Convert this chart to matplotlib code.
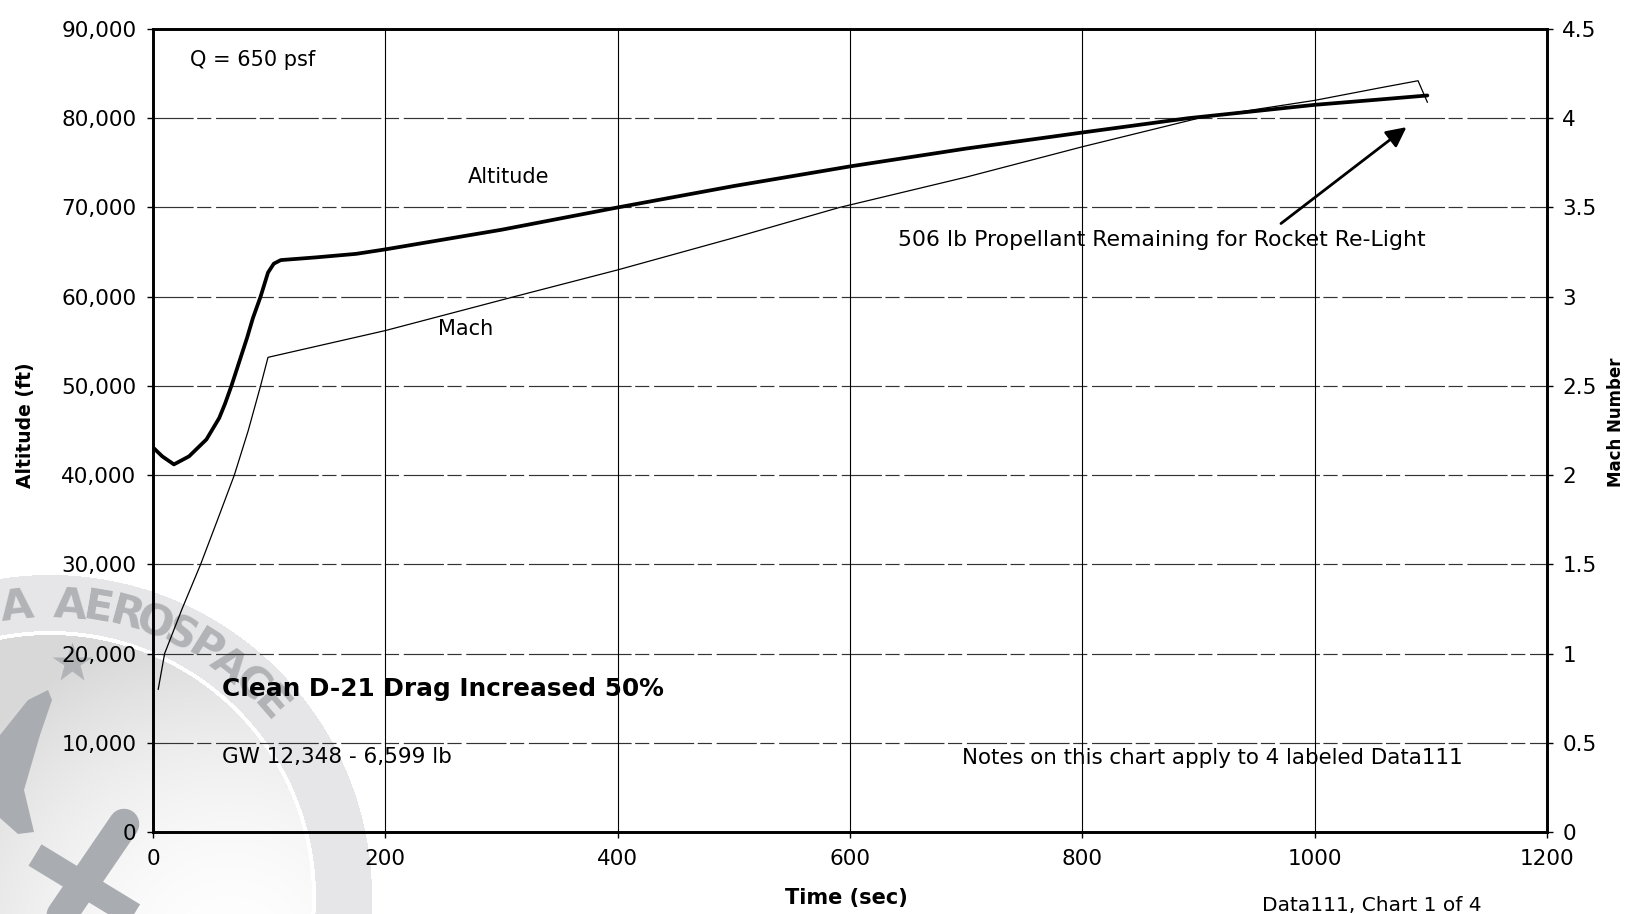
import numpy as np
import matplotlib
matplotlib.use("Agg")
import matplotlib.pyplot as plt
from matplotlib.patches import Polygon

# ---------------- data ----------------
time_alt = [0, 8, 18, 31, 46, 57, 62, 67.5, 74, 81, 86, 92.6, 99, 104, 110, 140, 175, 200,
            300, 400, 500, 600, 700, 800, 891, 1000, 1056, 1097]
altitude = [43100, 42100, 41200, 42100, 44000, 46400, 48000, 50000, 52600, 55400, 57600,
            60000, 62700, 63700, 64100, 64400, 64800, 65300, 67500, 70000, 72400, 74600,
            76600, 78400, 80000, 81500, 82100, 82550]

time_mach = [4.5, 10, 25, 41, 55, 70, 82, 92.6, 99, 200, 311, 400, 500, 591,
             700, 800, 900, 1000, 1056, 1089, 1097]
mach = [0.80, 1.0, 1.25, 1.5, 1.74, 2.0, 2.25, 2.5, 2.66, 2.81, 3.0, 3.15, 3.33,
        3.5, 3.67, 3.84, 4.0, 4.10, 4.17, 4.21, 4.09]

x_ticks = [0, 200, 400, 600, 800, 1000, 1200]
alt_ticks = [0, 10000, 20000, 30000, 40000, 50000, 60000, 70000, 80000, 90000]
mach_ticks = [0, 0.5, 1, 1.5, 2, 2.5, 3, 3.5, 4, 4.5]
mach_tick_labels = ["0", "0.5", "1", "1.5", "2", "2.5", "3", "3.5", "4", "4.5"]

W, H = 1633, 914
fig = plt.figure(figsize=(W / 100, H / 100), dpi=100)
fig.patch.set_facecolor("white")

# ---------------- watermark (background) ----------------
wm = fig.add_axes([0, 0, 1, 1], zorder=0)
wm.set_xlim(0, W)
wm.set_ylim(H, 0)
wm.axis("off")
cx, cy, R_out, R_in = 50, 897, 322, 262
xs = np.arange(0, 400)
ys = np.arange(560, 914)
XX, YY = np.meshgrid(xs + 0.5, ys + 0.5)
r = np.hypot(XX - cx, YY - cy)
img = np.zeros((len(ys), len(xs), 4))
band = (r >= R_in + 4) & (r <= R_out)
img[band] = [0.905, 0.905, 0.91, 1]
ring = (r >= R_in) & (r < R_in + 4)
img[ring] = [1, 1, 1, 1]
inner = r < R_in
d = np.hypot(XX - 230, YY - 960)
v = 1 - 0.15 * np.clip(d / 330, 0, 1) ** 1.8
img[inner, 0] = v[inner]
img[inner, 1] = v[inner]
img[inner, 2] = np.minimum(v[inner] + 0.004, 1)
img[inner, 3] = 1
wm.imshow(img, extent=(0, 400, 914, 560), origin="upper", interpolation="bilinear", zorder=1)

wm_color = "#b1b3b6"
letters = "AEROSPACE"
angles = np.linspace(86, 41, len(letters))
for ch, th in zip(letters, angles):
    rr = 292
    px = cx + rr * np.cos(np.radians(th))
    py = cy - rr * np.sin(np.radians(th))
    wm.text(px, py, ch, rotation=th - 90, ha="center", va="center", fontsize=31,
            fontweight="bold", color=wm_color, zorder=2)
th = 96.5
wm.text(cx + 292 * np.cos(np.radians(th)), cy - 292 * np.sin(np.radians(th)), "A",
        rotation=th - 90, ha="center", va="center", fontsize=31, fontweight="bold",
        color=wm_color, zorder=2)
wm.plot([72], [663], marker="*", markersize=30, color=wm_color, mec="none", zorder=2)
plane_c = "#a9acb0"
wm.add_patch(Polygon([(0, 735), (28, 700), (48, 690), (52, 700), (40, 735), (24, 790),
                      (34, 832), (18, 834), (0, 818)], closed=True,
                     facecolor=plane_c, edgecolor="none", zorder=2))
wm.plot([35, 150], [855, 925], color=plane_c, lw=18, solid_capstyle="butt", zorder=2)
wm.plot([124, 55], [824, 925], color=plane_c, lw=22, solid_capstyle="round", zorder=2)

# ---------------- main axes ----------------
left, right, bottom, top = 153 / W, 1547 / W, 1 - 832 / H, 1 - 29 / H
ax = fig.add_axes([left, bottom, right - left, top - bottom], zorder=3)
ax.patch.set_alpha(0)
ax.set_xlim(0, 1200)
ax.set_ylim(0, 90000)
ax.set_xticks(x_ticks)
ax.set_yticks(alt_ticks)
ax.set_yticklabels([f"{v:,}" for v in alt_ticks])
ax.set_xticklabels([str(v) for v in x_ticks])
for v in alt_ticks[1:-1]:
    ax.axhline(v, color="#333333", lw=0.85, dashes=(34, 3, 12, 4), zorder=1)
for v in x_ticks[1:-1]:
    ax.axvline(v, color="black", lw=0.8, zorder=1)

ax.plot(time_alt, altitude, color="black", lw=2.7, zorder=4,
        solid_capstyle="round", solid_joinstyle="round")

ax2 = ax.twinx()
ax2.set_zorder(4)
ax2.patch.set_visible(False)
ax2.set_ylim(0, 4.5)
ax2.set_yticks(mach_ticks)
ax2.set_yticklabels(mach_tick_labels)
ax2.plot(time_mach, mach, color="black", lw=0.9, zorder=4)

for a in (ax, ax2):
    for s in a.spines.values():
        s.set_linewidth(1.9)
        s.set_color("black")
ax.tick_params(axis="y", direction="out", length=4, width=1, labelsize=15.5, pad=8)
ax.tick_params(axis="x", direction="out", length=4, width=1, labelsize=15.5, pad=8)
ax2.tick_params(axis="y", direction="out", length=4, width=1, labelsize=15.5, pad=7)

# annotations
ax.text(32, 86500, "Q = 650 psf", fontsize=15, ha="left", va="center")
ax.text(306, 73400, "Altitude", fontsize=15, ha="center", va="center")
ax.text(269, 56400, "Mach", fontsize=15, ha="center", va="center")
ax.text(641, 66400, "506 lb Propellant Remaining for Rocket Re-Light", fontsize=15.8,
        ha="left", va="center")
ax.annotate("", xy=(1079, 79000), xytext=(971, 68200),
            arrowprops=dict(arrowstyle="-|>", color="black", lw=2.0, mutation_scale=30,
                            shrinkA=0, shrinkB=0))
ax.text(59.4, 16000, "Clean D-21 Drag Increased 50%", fontsize=17.8, fontweight="bold",
        ha="left", va="center")
ax.text(59.4, 8400, "GW 12,348 - 6,599 lb", fontsize=15.5, ha="left", va="center")
ax.text(696, 8250, "Notes on this chart apply to 4 labeled Data111", fontsize=15.4,
        ha="left", va="center")

fig.text(846 / W, 1 - 898 / H, "Time (sec)", fontsize=15, fontweight="bold",
         ha="center", va="center")
fig.text(26 / W, 1 - 425 / H, "Altitude (ft)", fontsize=13.5, fontweight="bold",
         rotation=90, ha="center", va="center")
fig.text(1616 / W, 1 - 422 / H, "Mach Number", fontsize=12, fontweight="bold",
         rotation=90, ha="center", va="center")
fig.text(1262 / W, 1 - 896 / H, "Data111, Chart 1 of 4", fontsize=14.5,
         ha="left", va="top")

fig.savefig("out.png", dpi=100)
